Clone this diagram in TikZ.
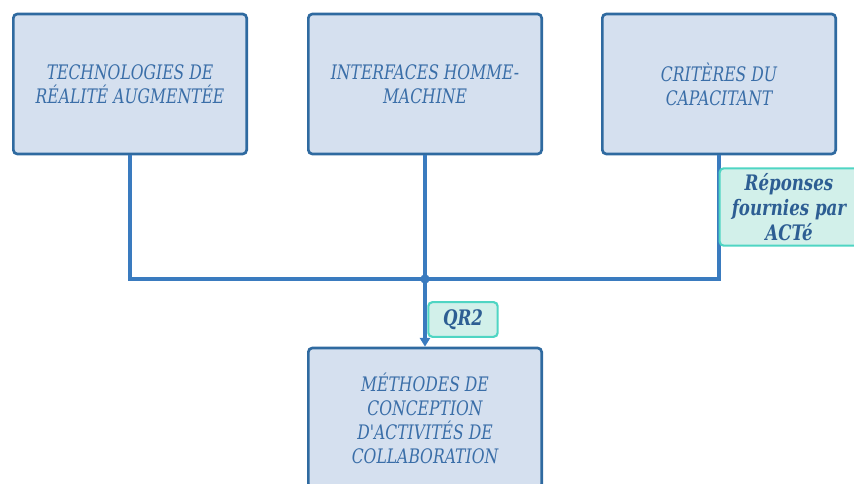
\documentclass[tikz,border=0pt]{standalone}
\usepackage{fontspec}
\setmainfont{DejaVu Serif}[FakeStretch=0.78, Ligatures=TeXOff]
\usetikzlibrary{arrows.meta}
\definecolor{boxborder}{HTML}{2F6AA0}
\definecolor{boxfill}{HTML}{D5E0EF}
\definecolor{boxtext}{HTML}{3A6EA8}
\definecolor{tagfill}{HTML}{D2F0EA}
\definecolor{tagborder}{HTML}{4FD5C3}
\definecolor{tagtext}{HTML}{2D5E93}
\definecolor{linecol}{HTML}{3A7BBF}
\tikzset{
  mainbox/.style={draw=boxborder, fill=boxfill, line width=2pt, rounded corners=3pt,
    minimum width=175pt, minimum height=105pt, inner sep=0pt, align=center,
    text=boxtext, font=\itshape\fontsize{15pt}{18pt}\selectfont},
  tagbox/.style={draw=tagborder, fill=tagfill, line width=1.6pt, rounded corners=3pt,
    inner sep=0pt, align=center, text=tagtext,
    font=\bfseries\itshape\fontsize{16pt}{18.75pt}\selectfont},
  conn/.style={draw=linecol, line width=2.4pt}
}
\begin{document}
\begin{tikzpicture}[x=0.75pt,y=-0.75pt]
\useasboundingbox (0,0) rectangle (854,484);
\node[mainbox] (t1) at (130,84) {TECHNOLOGIES DE\\RÉALITÉ AUGMENTÉE};
\node[mainbox] (t2) at (425,84) {INTERFACES HOMME-\\MACHINE};
\node[mainbox] (t3) at (719,84) {CRITÈRES DU\\CAPACITANT};
\node[mainbox] (b) at (425,418) {MÉTHODES DE\\CONCEPTION\\D'ACTIVITÉS DE\\COLLABORATION};
\coordinate (j) at (425,279);
\draw[conn] (t1.south) |- (j) -| (t3.south);
\draw[conn] (t2.south) -- (j);
\fill[linecol] (j) circle (3.5pt);
\draw[conn, -{Triangle[width=7.5pt,length=6.5pt]}] (j) -- (b.north);
\node[tagbox, minimum width=104pt, minimum height=58pt] (rep) at (789,207) {Réponses\\fournies par\\ACTé};
\node[tagbox, minimum width=52pt, minimum height=26pt] (qr) at (463,319.5) {QR2};
\end{tikzpicture}
\end{document}
